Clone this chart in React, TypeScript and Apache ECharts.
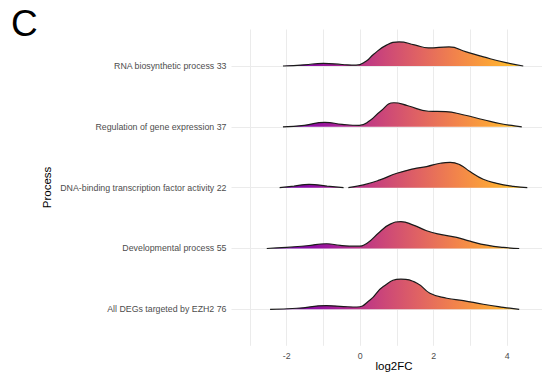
import React, { useEffect, useRef } from "react";
import * as echarts from "echarts";

// Rows from bottom (1) to top (5)
const processes = [
  "All DEGs targeted by EZH2 76",
  "Developmental process 55",
  "DNA-binding transcription factor activity 22",
  "Regulation of gene expression 37",
  "RNA biosynthetic process 33",
];

const xTickLabels = [-2, 0, 2, 4];
const xGridValues = [-3, -2, -1, 0, 1, 2, 3, 4];

// density ridges (x = log2FC, d = scaled density in row heights)
const allDegsX = [-2.45, -1.72, -0.91, -0.45, -0.09, 0.27, 0.63, 1.11, 1.55, 1.9, 2.36, 2.81, 3.35, 3.9, 4.33];
const allDegsD = [0, 0.017, 0.061, 0.045, 0.038, 0.153, 0.375, 0.495, 0.429, 0.264, 0.182, 0.144, 0.083, 0.033, 0];

const developmentalX = [-2.54, -2.0, -1.45, -0.91, -0.54, -0.09, 0.18, 0.54, 0.82, 1.11, 1.45, 1.81, 2.18, 2.63, 2.99, 3.45, 3.9, 4.33];
const developmentalD = [0, 0.017, 0.045, 0.078, 0.05, 0.038, 0.083, 0.276, 0.401, 0.441, 0.384, 0.292, 0.231, 0.182, 0.12, 0.054, 0.017, 0];

const dnaBindingLowX = [-2.19, -1.8, -1.39, -0.9, -0.45];
const dnaBindingLowD = [0, 0.025, 0.054, 0.025, 0];
const dnaBindingHighX = [-0.32, 0.09, 0.54, 1.0, 1.45, 1.81, 2.18, 2.45, 2.72, 2.99, 3.35, 3.72, 4.17, 4.55];
const dnaBindingHighD = [0, 0.045, 0.127, 0.236, 0.309, 0.347, 0.401, 0.417, 0.375, 0.264, 0.137, 0.071, 0.021, 0];

const regulationX = [-2.1, -1.52, -0.96, -0.49, -0.02, 0.26, 0.54, 0.92, 1.3, 1.86, 2.33, 2.8, 3.36, 3.83, 4.2, 4.4];
const regulationD = [0, 0.025, 0.074, 0.041, 0.025, 0.099, 0.248, 0.396, 0.347, 0.256, 0.25, 0.198, 0.116, 0.05, 0.017, 0];

const rnaX = [-2.1, -1.52, -1.0, -0.49, -0.11, 0.17, 0.36, 0.73, 1.06, 1.48, 1.86, 2.42, 2.89, 3.36, 4.0, 4.44];
const rnaD = [0, 0.02, 0.043, 0.025, 0.013, 0.083, 0.19, 0.347, 0.396, 0.347, 0.297, 0.314, 0.231, 0.149, 0.05, 0];

const ridges = [
  { row: 1, x: allDegsX, d: allDegsD },
  { row: 2, x: developmentalX, d: developmentalD },
  { row: 3, x: dnaBindingLowX, d: dnaBindingLowD },
  { row: 3, x: dnaBindingHighX, d: dnaBindingHighD },
  { row: 4, x: regulationX, d: regulationD },
  { row: 5, x: rnaX, d: rnaD },
];

// plasma colour ramp (0.1 .. 0.9) mapped over log2FC
const plasmaStops = ["#41049D", "#6A00A8", "#8F0DA4", "#B12A90", "#CC4778", "#E16462", "#F2844B", "#FCA636", "#FCCE25"];
const gradFrom = -3.3;
const gradTo = 4.6;

const FONT = "Liberation Sans, Arial, Helvetica, sans-serif";

export default function App() {
  const ref = useRef<HTMLDivElement>(null);
  useEffect(() => {
    if (!ref.current) return;
    const chart = echarts.init(ref.current, undefined, { renderer: "svg" });

    const buildSeries = (fill: any) => [
      {
        type: "line",
        data: [],
        silent: true,
        z: 1,
        markLine: {
          silent: true,
          z: 1,
          symbol: ["none", "none"],
          label: { show: false },
          lineStyle: { color: "#EBEBEB", type: "solid", width: 1 },
          data: [
            ...xGridValues.map((v) => ({ xAxis: v })),
            ...processes.map((_, i) => ({ yAxis: i + 1 })),
          ],
        },
      },
      ...ridges.map((r) => ({
        type: "line",
        data: r.x.map((v, i) => [v, r.row + r.d[i]]),
        smooth: 0.5,
        symbol: "none",
        showSymbol: false,
        silent: true,
        z: 3,
        lineStyle: { color: "#1A1A1A", width: 1.2 },
        areaStyle: { origin: r.row, color: fill, opacity: 1 },
      })),
    ];

    const option: any = {
      animation: false,
      grid: { left: 231.5, right: 0, top: 29.5, bottom: 28.2, containLabel: false },
      xAxis: {
        type: "value",
        min: -3.5,
        max: 4.95,
        axisLine: { show: false },
        axisTick: { show: false },
        splitLine: { show: false },
        axisLabel: {
          customValues: xTickLabels,
          color: "#4D4D4D",
          fontSize: 8.8,
          fontFamily: FONT,
          margin: 6,
        },
      },
      yAxis: {
        type: "value",
        min: 0.4,
        max: 5.6,
        axisLine: { show: false },
        axisTick: { show: false },
        splitLine: { show: false },
        axisLabel: {
          customValues: [1, 2, 3, 4, 5],
          formatter: (v: number) => processes[Math.round(v) - 1] ?? "",
          color: "#4D4D4D",
          fontSize: 8.8,
          fontFamily: FONT,
          margin: 5,
        },
      },
      graphic: [
        {
          type: "text",
          left: 11,
          top: 5,
          style: { text: "C", fontSize: 37, fontFamily: FONT, fill: "#000" },
        },
        {
          type: "text",
          x: 47,
          y: 187.5,
          rotation: Math.PI / 2,
          style: {
            text: "Process",
            fontSize: 11.5,
            fontFamily: FONT,
            fill: "#000",
            align: "center",
            verticalAlign: "middle",
          },
        },
        {
          type: "text",
          x: 394,
          y: 366,
          style: {
            text: "log2FC",
            fontSize: 11.5,
            fontFamily: FONT,
            fill: "#000",
            align: "center",
            verticalAlign: "middle",
          },
        },
      ],
      series: buildSeries("#CC4778"),
    };
    chart.setOption(option);

    const p0 = chart.convertToPixel({ xAxisIndex: 0 }, gradFrom) as number;
    const p1 = chart.convertToPixel({ xAxisIndex: 0 }, gradTo) as number;
    const gradient = new echarts.graphic.LinearGradient(
      p0,
      0,
      p1,
      0,
      plasmaStops.map((c, i) => ({ offset: i / (plasmaStops.length - 1), color: c })),
      true
    );
    chart.setOption({ series: buildSeries(gradient) });

    return () => chart.dispose();
  }, []);

  return (
    <div
      ref={ref}
      style={{ position: "fixed", left: 0, top: 0, width: 542, height: 374, background: "#fff" }}
    />
  );
}
